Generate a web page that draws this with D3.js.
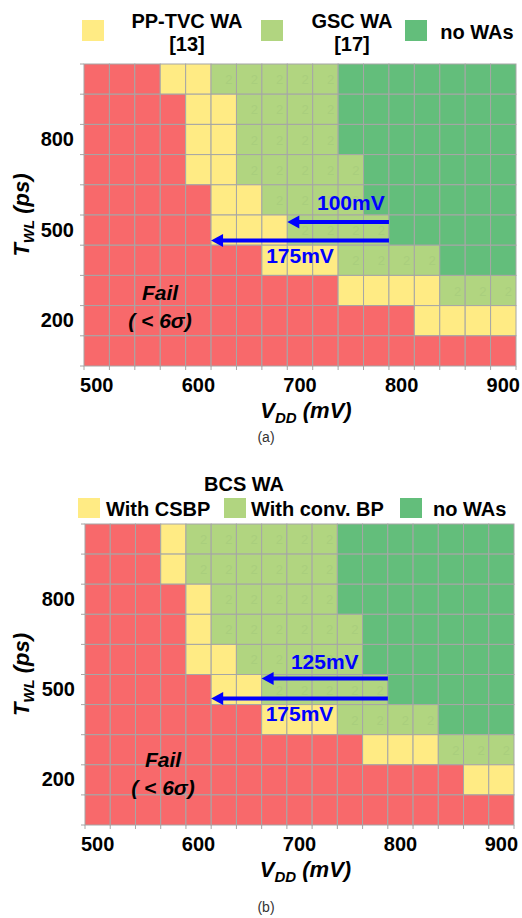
<!DOCTYPE html>
<html>
<head>
<meta charset="utf-8">
<script src="https://cdn.jsdelivr.net/npm/d3@7"></script>
<style>
body { margin: 0; background: #fff; }
text { font-family: "Liberation Sans", Arial, sans-serif; }
</style>
</head>
<body>
<script>
// columns (VDD, mV) and rows (TWL, ps)
var vdd = [500, 525, 550, 575, 600, 625, 650, 675, 700, 725, 750, 775, 800, 825, 850, 875, 900];
var twl = [1000, 900, 800, 700, 600, 500, 400, 300, 200, 100];
var xTicks = [500, 600, 700, 800, 900];
var yTicks = [800, 500, 200];

// 0 = fail, 1 = yellow WA, 2 = light green WA, 3 = no WAs
var statusA = [
    "00011222223333333",
    "00001122223333333",
    "00001122223333333",
    "00001122222333333",
    "00000112222333333",
    "00000111222233333",
    "00000001112222333",
    "00000000001111222",
    "00000000000001111",
    "00000000000000000"
];
var statusB = [
    "00012222223333333",
    "00012222223333333",
    "00001222223333333",
    "00001222222333333",
    "00001122222333333",
    "00000112222233333",
    "00000001112222333",
    "00000000000111222",
    "00000000000000011",
    "00000000000000000"
];
var colors = ["#f8696b", "#ffeb84", "#b1d580", "#63be7b"];

var legendA = [["PP-TVC WA", "[13]"], ["GSC WA", "[17]"], ["no WAs"]];
var legendB = ["With CSBP", "With conv. BP", "no WAs"];

var arrowsA = [{from: 800, to: 700, label: "100mV"}, {from: 800, to: 625, label: "175mV"}];
var arrowsB = [{from: 800, to: 675, label: "125mV"}, {from: 800, to: 625, label: "175mV"}];

var svg = d3.select("body").append("svg")
    .attr("width", 522)
    .attr("height", 918);

function drawPanel(o) {
    var x = d3.scaleBand().domain(vdd).range([o.x0, o.x1]);
    var y = d3.scaleBand().domain(twl).range([o.y0, o.y1]);
    var g = svg.append("g");

    var cells = [];
    o.status.forEach(function (row, i) {
        row.split("").forEach(function (ch, j) {
            cells.push({v: vdd[j], t: twl[i], s: +ch});
        });
    });

    g.selectAll("rect.cell").data(cells).enter().append("rect")
        .attr("class", "cell")
        .attr("x", function (d) { return x(d.v); })
        .attr("y", function (d) { return y(d.t); })
        .attr("width", x.bandwidth())
        .attr("height", y.bandwidth())
        .attr("fill", function (d) { return colors[d.s]; })
        .attr("stroke", "#a6a6a6")
        .attr("stroke-width", 1);

    // faint cell values in the light green cells
    g.selectAll("text.val").data(cells.filter(function (d) { return d.s == 2; }))
        .enter().append("text")
        .attr("x", function (d) { return x(d.v) + x.bandwidth() - 4; })
        .attr("y", function (d) { return y(d.t) + y.bandwidth() / 2 + 5; })
        .attr("text-anchor", "end")
        .attr("font-size", 13)
        .attr("fill", "#a9ce7d")
        .text("2");

    // small tick marks at cell boundaries
    var xb = vdd.map(function (v) { return x(v); }).concat([o.x1]);
    var yb = twl.map(function (t) { return y(t); }).concat([o.y1]);
    g.selectAll("line.xt").data(xb).enter().append("line")
        .attr("x1", function (d) { return d; }).attr("x2", function (d) { return d; })
        .attr("y1", o.y1).attr("y2", o.y1 + 4)
        .attr("stroke", "#a6a6a6");
    g.selectAll("line.yt").data(yb).enter().append("line")
        .attr("x1", o.x0 - 4).attr("x2", o.x0)
        .attr("y1", function (d) { return d; }).attr("y2", function (d) { return d; })
        .attr("stroke", "#a6a6a6");

    var xAxis = g.append("g")
        .attr("transform", "translate(0," + o.y1 + ")")
        .call(d3.axisBottom(x).tickValues(xTicks).tickSize(0).tickPadding(12));
    xAxis.select(".domain").remove();
    xAxis.selectAll("text").attr("font-size", 20).attr("font-weight", "bold")
        .attr("fill", "#000").attr("font-family", "Liberation Sans, Arial, sans-serif");

    var yAxis = g.append("g")
        .attr("transform", "translate(" + (o.x0 - 10) + ",0)")
        .call(d3.axisLeft(y).tickValues(yTicks).tickSize(0).tickPadding(0));
    yAxis.select(".domain").remove();
    yAxis.selectAll("text").attr("font-size", 20).attr("font-weight", "bold")
        .attr("fill", "#000").attr("font-family", "Liberation Sans, Arial, sans-serif");

    // axis titles
    var xt = g.append("text")
        .attr("x", (o.x0 + o.x1) / 2 + 6)
        .attr("y", o.y1 + 52)
        .attr("text-anchor", "middle")
        .attr("font-size", 22).attr("font-weight", "bold").attr("font-style", "italic");
    xt.append("tspan").text("V");
    xt.append("tspan").attr("font-size", 15).attr("dy", 5).text("DD");
    xt.append("tspan").attr("dy", -5).text(" (mV)");

    var yt = g.append("text")
        .attr("transform", "translate(29," + ((o.y0 + o.y1) / 2) + ") rotate(-90)")
        .attr("text-anchor", "middle")
        .attr("font-size", 22).attr("font-weight", "bold").attr("font-style", "italic");
    yt.append("tspan").text("T");
    yt.append("tspan").attr("font-size", 15).attr("dy", 5).text("WL");
    yt.append("tspan").attr("dy", -5).text(" (ps)");

    // fail label
    g.append("text")
        .attr("x", o.failX).attr("y", o.failY)
        .attr("text-anchor", "middle")
        .attr("font-size", 21).attr("font-weight", "bold").attr("font-style", "italic")
        .text("Fail");
    g.append("text")
        .attr("x", o.failX).attr("y", o.failY + 28)
        .attr("text-anchor", "middle")
        .attr("font-size", 21).attr("font-weight", "bold").attr("font-style", "italic")
        .text("( < 6\u03c3)");

    // arrows
    o.arrows.forEach(function (a, i) {
        var ay = y(500) + o.arrowDy[i];
        var tip = x(a.to);
        g.append("line")
            .attr("x1", x(a.from)).attr("x2", tip + 10)
            .attr("y1", ay).attr("y2", ay)
            .attr("stroke", "#0000ff").attr("stroke-width", 4);
        g.append("path")
            .attr("d", "M" + tip + "," + ay + " L" + (tip + 12) + "," + (ay - 6.5) +
                " L" + (tip + 12) + "," + (ay + 6.5) + " Z")
            .attr("fill", "#0000ff");
        g.append("text")
            .attr("x", x(o.labelAt[i]) + x.bandwidth() / 2)
            .attr("y", y(500) + o.labelDy[i])
            .attr("text-anchor", "middle")
            .attr("font-size", 21).attr("font-weight", "bold")
            .attr("fill", "#0000ff")
            .text(a.label);
    });

    svg.append("text")
        .attr("x", 266).attr("y", o.capY)
        .attr("text-anchor", "middle")
        .attr("font-size", 14).attr("fill", "#333")
        .text(o.caption);
}

drawPanel({
    x0: 84, x1: 516, y0: 64, y1: 366,
    status: statusA, arrows: arrowsA,
    arrowDy: [7, 25.5], labelAt: [750, 700], labelDy: [-5, 48],
    failX: 160, failY: 300, capY: 442, caption: "(a)"
});
drawPanel({
    x0: 85, x1: 514, y0: 524, y1: 825,
    status: statusB, arrows: arrowsB,
    arrowDy: [4, 24], labelAt: [725, 700], labelDy: [-6, 46],
    failX: 163, failY: 767, capY: 912, caption: "(b)"
});

// legend (a)
var la = svg.append("g");
var laSq = [82, 261, 405];
var laTx = [187, 352, 477];
legendA.forEach(function (lines, i) {
    la.append("rect").attr("x", laSq[i]).attr("y", 20).attr("width", 22).attr("height", 21)
        .attr("fill", colors[i + 1]);
    lines.forEach(function (s, k) {
        la.append("text")
            .attr("x", laTx[i])
            .attr("y", lines.length == 1 ? 39 : 28 + k * 23)
            .attr("text-anchor", "middle")
            .attr("font-size", 20).attr("font-weight", "bold")
            .text(s);
    });
});

// legend (b)
var lb = svg.append("g");
lb.append("text").attr("x", 244).attr("y", 491)
    .attr("text-anchor", "middle").attr("font-size", 20).attr("font-weight", "bold")
    .text("BCS WA");
var lbSq = [78, 224, 400];
var lbTx = [106, 251, 433];
legendB.forEach(function (s, i) {
    lb.append("rect").attr("x", lbSq[i]).attr("y", 498).attr("width", 22).attr("height", 20)
        .attr("fill", colors[i + 1]);
    lb.append("text").attr("x", lbTx[i]).attr("y", 516)
        .attr("font-size", 20).attr("font-weight", "bold")
        .text(s);
});
</script>
</body>
</html>
